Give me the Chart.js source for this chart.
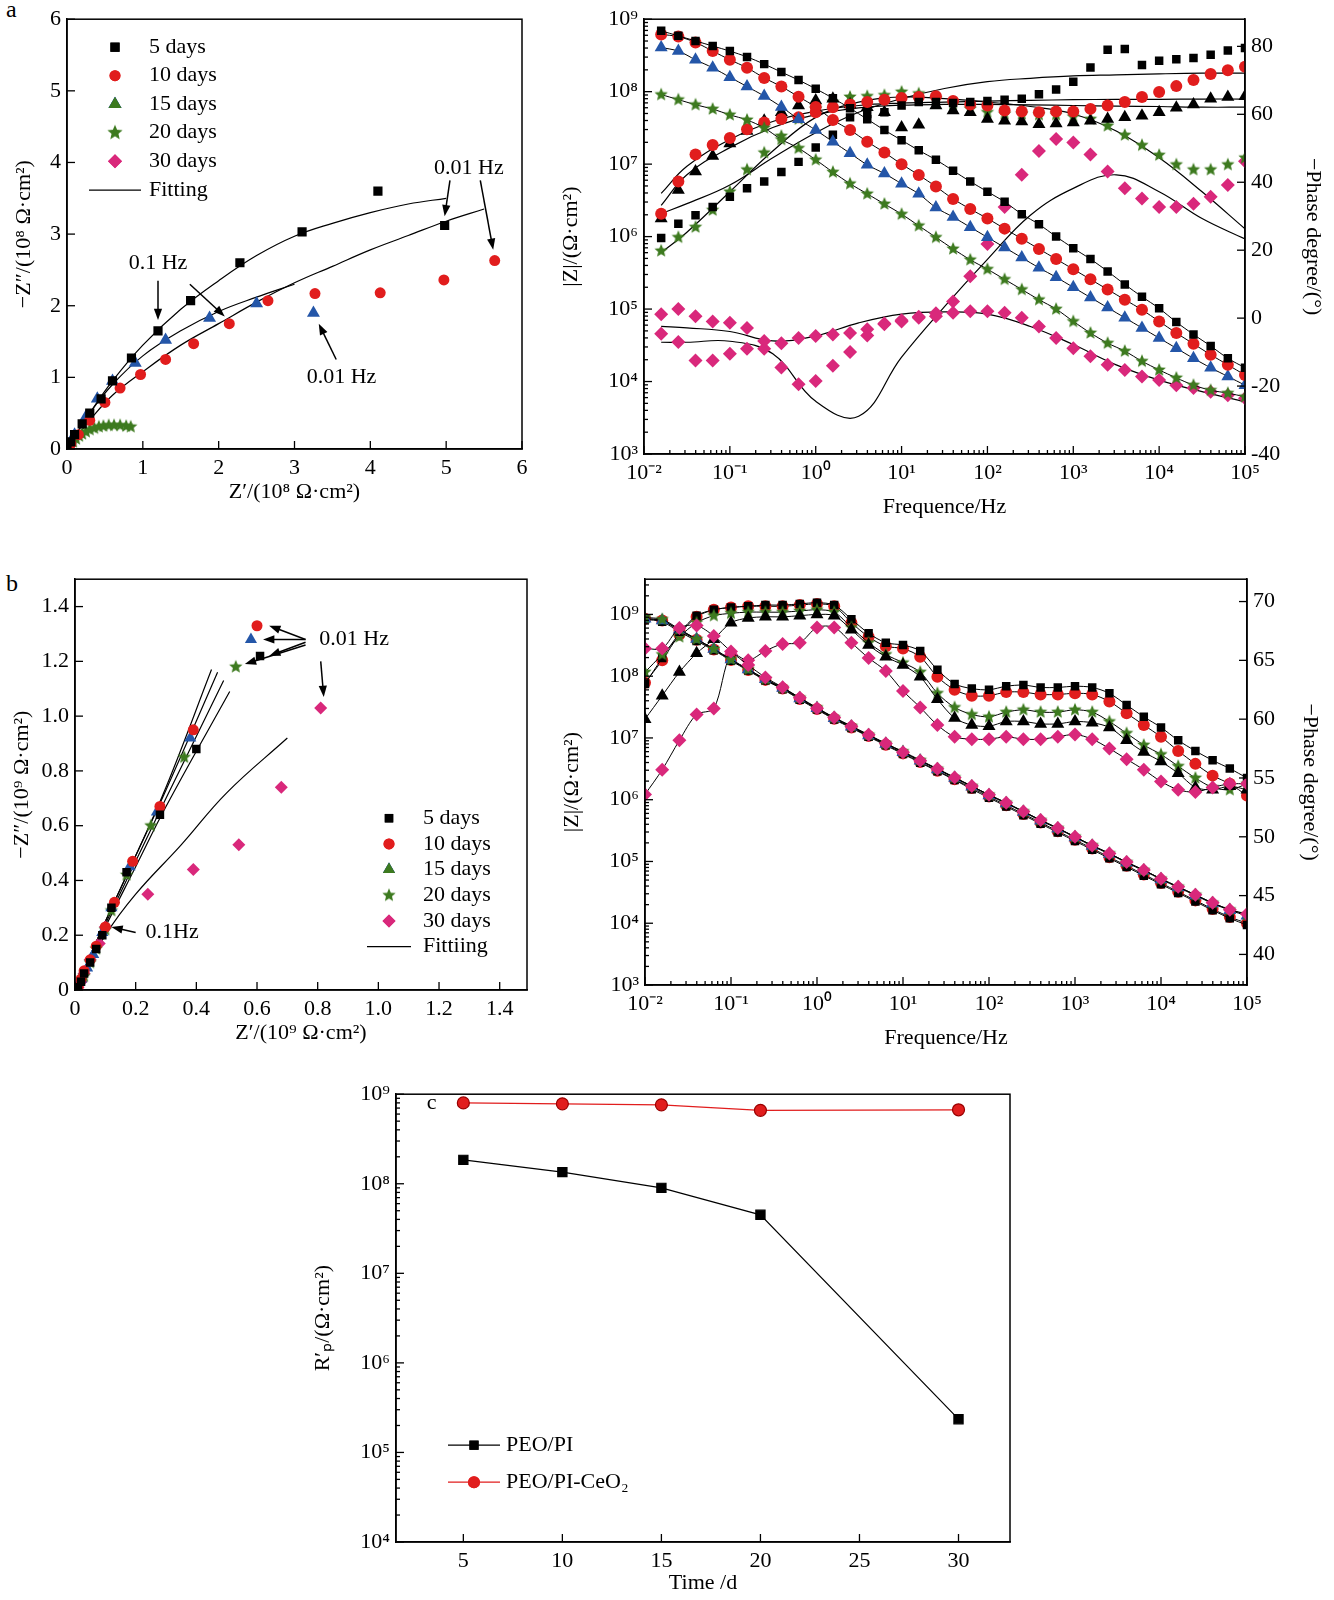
<!DOCTYPE html>
<html>
<head>
<meta charset="utf-8">
<script src="https://cdn.jsdelivr.net/npm/chart.js@4.4.1/dist/chart.umd.min.js"></script>
<style>
body{margin:0;background:#fff;width:1334px;height:1600px;position:relative;overflow:hidden}
canvas{position:absolute}
.lab{position:absolute;font:24px "Liberation Serif",serif}
</style>
</head>
<body>
<div class="lab" style="left:6px;top:-4px">a</div>
<div class="lab" style="left:6px;top:570px">b</div>
<canvas id="aL" width="530" height="509" style="left:7px;top:0"></canvas>
<canvas id="aR" width="776" height="524" style="left:554px;top:0"></canvas>
<canvas id="bL" width="537" height="490" style="left:5px;top:560px"></canvas>
<canvas id="bR" width="772" height="495" style="left:555px;top:560px"></canvas>
<canvas id="cC" width="724" height="525" style="left:306px;top:1075px"></canvas>
<script>
// ---------- data ----------
const days = ['5 days','10 days','15 days','20 days','30 days'];

// panel a, Nyquist (10^8 ohm cm2)
const aNyq5  = [[0,0],[0.05,0.1],[0.1,0.2],[0.2,0.35],[0.3,0.5],[0.45,0.7],[0.6,0.95],[0.85,1.27],[1.2,1.65],[1.63,2.07],[2.28,2.6],[3.1,3.03],[4.1,3.6],[4.98,3.12]];
const aNyq10 = [[0.05,0.07],[0.15,0.2],[0.3,0.4],[0.5,0.65],[0.7,0.85],[0.97,1.04],[1.3,1.25],[1.67,1.47],[2.14,1.75],[2.65,2.07],[3.27,2.17],[4.13,2.18],[4.97,2.36],[5.64,2.63]];
const aNyq15 = [[0.1,0.2],[0.25,0.45],[0.4,0.7],[0.6,0.95],[0.9,1.2],[1.3,1.52],[1.88,1.83],[2.5,2.03],[3.25,1.9]];
const aNyq20 = [[0.02,0.02],[0.05,0.06],[0.08,0.1],[0.12,0.14],[0.16,0.18],[0.2,0.21],[0.25,0.24],[0.3,0.27],[0.36,0.29],[0.42,0.31],[0.48,0.32],[0.55,0.33],[0.62,0.33],[0.7,0.33],[0.78,0.32],[0.84,0.31]];
const aNyq30 = [[0,0]];
const aFit5  = [[0,0],[0.3,0.5],[0.6,0.95],[1,1.45],[1.5,1.95],[2,2.35],[2.5,2.7],[3,2.97],[3.5,3.15],[4,3.3],[4.5,3.42],[5,3.5]];
const aFit10 = [[0,0],[0.3,0.4],[0.6,0.75],[1,1.08],[1.5,1.45],[2,1.75],[2.5,2.05],[3,2.32],[3.5,2.55],[4,2.78],[4.5,2.98],[5,3.18],[5.5,3.35]];
const aFit15 = [[0,0],[0.3,0.5],[0.6,0.9],[1,1.3],[1.5,1.65],[2,1.92],[2.5,2.12],[3,2.3]];
const aFit20 = [[0,0],[0.1,0.13],[0.2,0.2],[0.3,0.25],[0.45,0.3],[0.6,0.32],[0.8,0.33]];

// panel a, Bode: log10 frequency, log10 |Z|, phase
const fA = [-1.8,-1.6,-1.4,-1.2,-1,-0.8,-0.6,-0.4,-0.2,0,0.2,0.4,0.6,0.8,1,1.2,1.4,1.6,1.8,2,2.2,2.4,2.6,2.8,3,3.2,3.4,3.6,3.8,4,4.2,4.4,4.6,4.8,5];
const aZ5  = [8.84,8.77,8.70,8.63,8.56,8.48,8.38,8.27,8.16,8.04,7.91,7.77,7.62,7.47,7.33,7.19,7.06,6.91,6.76,6.62,6.48,6.31,6.17,6.0,5.84,5.69,5.52,5.34,5.17,5.01,4.82,4.65,4.49,4.32,4.19];
const aZ10 = [8.79,8.76,8.68,8.56,8.44,8.33,8.19,8.07,7.93,7.79,7.61,7.47,7.31,7.16,7.0,6.85,6.69,6.52,6.38,6.25,6.11,5.97,5.83,5.69,5.55,5.41,5.27,5.13,4.99,4.83,4.67,4.52,4.37,4.23,4.09];
const aZ15 = [8.61,8.56,8.44,8.33,8.2,8.07,7.94,7.79,7.62,7.47,7.31,7.15,6.99,6.87,6.73,6.59,6.4,6.27,6.13,5.99,5.85,5.71,5.57,5.44,5.3,5.16,5.02,4.88,4.74,4.6,4.46,4.32,4.19,4.07,3.95];
const aZ20 = [7.96,7.89,7.82,7.76,7.68,7.61,7.5,7.34,7.22,7.06,6.89,6.73,6.59,6.45,6.31,6.15,5.99,5.83,5.68,5.55,5.41,5.27,5.13,5.0,4.83,4.67,4.53,4.42,4.28,4.16,4.05,3.95,3.88,3.84,3.79];
const aZ30 = [4.93,5.0,4.9,4.83,4.81,4.74,4.56,4.53,4.6,4.63,4.65,4.67,4.72,4.79,4.83,4.88,4.9,4.95,4.97,4.97,4.95,4.88,4.76,4.6,4.46,4.35,4.23,4.16,4.07,4.02,3.95,3.91,3.86,3.81,3.77];
const aP5  = [23.6,27.8,30.3,32.7,35.7,38.2,40.2,43.0,46.0,50.2,54.0,59.1,60.1,60.6,62.6,63.6,63.6,63.3,63.6,63.9,64.3,64.6,65.9,67.3,69.6,73.8,79.0,79.2,74.5,75.8,76.2,76.6,77.5,78.8,79.5];
const aP10 = [30.7,40.2,48.2,51.0,53.0,55.6,57.6,58.6,59.1,60.6,62.1,62.9,63.6,64.3,64.8,65.1,65.3,63.9,62.9,62.6,61.1,60.8,60.6,60.8,60.8,61.6,62.6,63.6,65.1,66.6,68.3,70.1,71.9,73.0,74.0];
const aP15 = [29.3,37.7,43.2,47.7,51.4,55.1,58.1,60.6,62.6,64.1,64.6,62.9,62.1,60.6,56.1,56.9,62.6,61.1,60.6,58.6,58.1,57.9,57.1,57.3,57.6,58.1,58.6,59.1,59.6,60.6,61.9,62.9,64.6,65.1,65.3];
const aP20 = [19.8,23.8,26.8,31.8,37.2,43.7,48.7,53.6,58.6,61.6,63.6,65.1,65.3,65.6,66.6,66.1,64.6,62.9,61.6,60.6,60.1,60.1,59.9,59.9,59.3,58.6,56.6,53.9,50.9,48.0,45.2,43.7,43.7,45.2,47.2];
const aP30 = [-4.6,-7.0,-12.5,-12.5,-10.5,-9.0,-9.0,-14.5,-19.5,-18.5,-14.0,-10.0,-5.1,-1.6,-0.6,0.4,1.4,4.9,12.3,21.8,32.7,42.2,49.2,52.7,51.7,48.2,43.2,38.2,35.2,32.7,32.7,33.7,35.7,39.2,46.2];
// fitted curves, panel a Bode
const fAfit = [-1.8,-1.5,-1,-0.5,0,0.5,1,1.5,2,2.5,3,3.5,4,4.5,5];
const aFitZ30 = [4.76,4.74,4.69,4.56,4.63,4.81,4.93,4.96,4.93,4.76,4.51,4.23,4.02,3.86,3.72];
const aFitP5  = [30.8,33.7,39.2,47.2,54.6,60.6,64.6,67.6,69.6,70.6,71.3,71.6,71.9,72.1,72.1];
const aFitP10 = [36.7,44.7,52.6,57.9,60.9,62.6,63.3,63.6,63.9,64.1,64.3,64.4,64.4,64.5,64.5];
const aFitP15 = [33.2,42.2,50.2,56.1,59.9,61.9,62.7,62.9,62.9,62.8,62.6,62.4,62.3,62.1,62.1];
const aFitP20 = [19.3,25.3,37.2,49.2,59.1,63.6,65.1,64.6,63.6,62.3,60.1,55.1,47.2,37.2,26.3];
const aFitP30 = [-7.1,-7.1,-6.8,-10.5,-24.5,-28.9,-11.5,3.4,17.3,30.3,38.2,42.2,37.2,29.3,23.3];

// panel b, Nyquist (10^9 ohm cm2)
const bNyq5  = [[0.01,0.01],[0.02,0.03],[0.03,0.06],[0.05,0.1],[0.07,0.15],[0.09,0.2],[0.12,0.3],[0.17,0.43],[0.28,0.64],[0.4,0.88],[0.61,1.22]];
const bNyq10 = [[0.01,0.01],[0.02,0.04],[0.03,0.07],[0.05,0.11],[0.07,0.16],[0.1,0.23],[0.13,0.32],[0.19,0.47],[0.28,0.67],[0.39,0.95],[0.6,1.33]];
const bNyq15 = [[0.01,0.01],[0.02,0.04],[0.04,0.08],[0.06,0.13],[0.09,0.21],[0.12,0.3],[0.18,0.45],[0.27,0.65],[0.38,0.92],[0.58,1.28]];
const bNyq20 = [[0.01,0.02],[0.03,0.05],[0.05,0.1],[0.07,0.15],[0.1,0.22],[0.12,0.29],[0.17,0.42],[0.25,0.6],[0.36,0.85],[0.53,1.18]];
const bNyq30 = [[0.01,0.01],[0.02,0.03],[0.03,0.06],[0.05,0.11],[0.08,0.17],[0.1,0.23],[0.24,0.35],[0.39,0.44],[0.54,0.53],[0.68,0.74],[0.81,1.03]];
const bFit5  = [[0,0],[0.1,0.25],[0.2,0.49],[0.3,0.74],[0.45,1.17]];
const bFit10 = [[0,0],[0.1,0.25],[0.2,0.49],[0.3,0.73],[0.47,1.16]];
const bFit15 = [[0,0],[0.1,0.24],[0.2,0.47],[0.3,0.7],[0.49,1.13]];
const bFit20 = [[0,0],[0.1,0.23],[0.2,0.45],[0.3,0.67],[0.51,1.09]];
const bFit30 = [[0,0],[0.1,0.2],[0.2,0.35],[0.35,0.53],[0.5,0.72],[0.7,0.92]];

// panel b, Bode
const fB = [-2,-1.8,-1.6,-1.4,-1.2,-1,-0.8,-0.6,-0.4,-0.2,0,0.2,0.4,0.6,0.8,1,1.2,1.4,1.6,1.8,2,2.2,2.4,2.6,2.8,3,3.2,3.4,3.6,3.8,4,4.2,4.4,4.6,4.8,5];
const bZ5  = [8.92,8.88,8.72,8.57,8.42,8.25,8.09,7.93,7.79,7.62,7.46,7.3,7.16,7.02,6.88,6.74,6.6,6.46,6.32,6.17,6.03,5.89,5.75,5.61,5.47,5.33,5.19,5.05,4.91,4.77,4.63,4.49,4.35,4.21,4.08,3.97];
const bZ10 = [8.93,8.9,8.74,8.59,8.43,8.26,8.1,7.94,7.8,7.63,7.47,7.31,7.17,7.03,6.89,6.75,6.61,6.47,6.33,6.19,6.05,5.91,5.77,5.63,5.49,5.35,5.21,5.07,4.93,4.79,4.65,4.51,4.37,4.23,4.1,4.0];
const bZ15 = [8.93,8.9,8.75,8.6,8.44,8.27,8.11,7.95,7.81,7.64,7.48,7.32,7.18,7.04,6.9,6.77,6.63,6.49,6.35,6.21,6.07,5.94,5.8,5.66,5.53,5.39,5.25,5.12,4.98,4.85,4.71,4.58,4.45,4.32,4.21,4.12];
const bZ20 = [8.95,8.92,8.76,8.6,8.44,8.27,8.11,7.95,7.81,7.65,7.49,7.33,7.19,7.05,6.91,6.78,6.64,6.5,6.36,6.22,6.08,5.95,5.81,5.67,5.54,5.4,5.26,5.13,4.99,4.86,4.72,4.59,4.46,4.33,4.22,4.14];
const bZ30 = [8.45,8.45,8.78,8.82,8.65,8.4,8.18,7.98,7.82,7.65,7.48,7.33,7.19,7.05,6.91,6.77,6.63,6.5,6.36,6.22,6.08,5.95,5.81,5.67,5.54,5.4,5.26,5.13,4.99,4.86,4.72,4.59,4.46,4.33,4.22,4.15];
const bP5  = [63,65.2,67.3,68.8,69.3,69.5,69.6,69.7,69.7,69.8,69.9,69.7,68.5,67.3,66.5,66.3,65.8,64.2,63.0,62.6,62.5,62.8,62.9,62.7,62.7,62.8,62.7,62.2,61.2,60.2,59.3,58.2,57.3,56.5,55.8,55.0];
const bP10 = [63.1,65.0,67.2,68.7,69.3,69.5,69.6,69.6,69.6,69.7,69.8,69.6,68.2,67.0,66.2,66.0,65.3,63.6,62.5,62.0,62.0,62.3,62.3,62.1,62.1,62.2,62.1,61.5,60.5,59.5,58.5,57.3,56.2,55.2,54.5,53.5];
const bP15 = [60.0,62.0,64.0,65.6,66.8,68.2,68.6,68.7,68.7,68.8,68.9,68.8,67.6,66.3,65.3,64.6,63.6,61.7,60.1,59.5,59.4,59.8,59.8,59.6,59.6,59.8,59.7,59.3,58.2,57.2,56.4,55.4,54.2,54.0,54.3,54.0];
const bP20 = [64.0,65.5,67.0,68.2,68.8,69.0,69.1,69.1,69.1,69.2,69.3,69.1,67.8,66.5,65.5,64.8,64.0,62.2,61.0,60.4,60.2,60.6,60.8,60.6,60.6,60.8,60.6,59.8,58.8,57.8,57.0,56.0,55.0,54.2,54.0,54.5];
const bP30 = [53.6,55.7,58.2,60.4,60.9,65.5,65.0,65.8,66.4,66.5,67.8,67.8,66.5,65.2,64.1,62.4,61.0,59.5,58.5,58.3,58.3,58.5,58.3,58.3,58.5,58.7,58.3,57.5,56.6,55.7,54.7,54.0,53.8,54.2,54.5,54.5];

// panel c
const cDays = [5,10,15,20,30];
const cPI   = [1.85e8,1.35e8,9e7,4.5e7,2.35e5];
const cCeO2 = [8e8,7.8e8,7.6e8,6.6e8,6.7e8];

// ---------- helpers ----------
const FONT = '"Liberation Serif", "Times New Roman", serif';
const COL = {k:'#000000', r:'#e11d1d', b:'#2456a8', g:'#3d7a1f', p:'#d9287b'};
const SUP = {'0':'⁰','1':'¹','2':'²','3':'³','4':'⁴','5':'⁵','6':'⁶','7':'⁷','8':'⁸','9':'⁹','-':'⁻'};
const sup = n => '10' + String(n).split('').map(c => SUP[c]).join('');

function makeStar(color, r){
  const c = document.createElement('canvas');
  c.width = c.height = 2*r+2;
  const g = c.getContext('2d');
  g.fillStyle = color;
  g.beginPath();
  for(let i=0;i<10;i++){
    const rr = i%2 ? r*0.45 : r;
    const a = -Math.PI/2 + i*Math.PI/5;
    g.lineTo(r+1+rr*Math.cos(a), r+1+rr*Math.sin(a));
  }
  g.closePath(); g.fill();
  return c;
}
const star = makeStar(COL.g, 8);
const starS = makeStar(COL.g, 7);

const pts = (xs, ys, logY) => xs.map((f,i) => ({x: Math.pow(10,f), y: logY ? Math.pow(10, ys[i]) : ys[i]}));
const xy = arr => arr.map(p => ({x:p[0], y:p[1]}));

function marks(data, color, style, r, axis, line){
  return {data, yAxisID: axis||'y', pointStyle: style, pointRadius: r, pointHoverRadius: r,
    pointBackgroundColor: color, pointBorderColor: color, pointBorderWidth: 0,
    showLine: !!line, borderColor:'#000', borderWidth: 1, tension: 0.3, order: 1};
}
function fit(data, axis){
  return {data, yAxisID: axis||'y', pointRadius: 0, showLine: true, borderColor:'#000', borderWidth: 1.2, tension: 0.4, order: 2};
}

function fixW(w){ return s => { s.width = w; }; }
function fixH(h){ return s => { s.height = h; }; }

function logTicks(lo, hi){
  return s => {
    const t = [];
    for(let e=lo;e<=hi;e++){
      for(let m=1;m<10;m++){
        const v = m*Math.pow(10,e);
        if(v>=s.min*0.999 && v<=s.max*1.001) t.push({value:v});
      }
    }
    s.ticks = t;
  };
}
function linTicks(vals){ return s => { s.ticks = vals.map(v => ({value:v})); }; }
function decLabel(v){
  const e = Math.log10(v);
  return Math.abs(e-Math.round(e))<1e-6 ? sup(Math.round(e)) : '';
}

const tickFont = {family: FONT, size: 22};
const titleFont = {family: FONT, size: 22};

function axis(o){
  return Object.assign({
    border:{color:'#000', width:1.5},
    grid:{display:false, drawTicks:false},
    ticks:{color:'#000', font:tickFont, padding:6, maxRotation:0, autoSkip:false},
  }, o);
}

// box, inward ticks, legend, notes, arrows
const extras = {
  id:'extras',
  afterDraw(chart, args, opt){
    const ctx = chart.ctx, a = chart.chartArea;
    ctx.save();
    ctx.strokeStyle = '#000'; ctx.lineWidth = 1.5;
    ctx.strokeRect(a.left, a.top, a.right-a.left, a.bottom-a.top);
    // inward ticks
    ctx.lineWidth = 1.3;
    Object.values(chart.scales).forEach(s => {
      const isLog = s.type === 'logarithmic';
      s.ticks.forEach(t => {
        let major = true;
        if(isLog){ const e = Math.log10(t.value); major = Math.abs(e-Math.round(e))<1e-6; }
        const len = major ? 8 : 4;
        const p = s.getPixelForValue(t.value);
        ctx.beginPath();
        if(s.axis === 'x'){ ctx.moveTo(p, a.bottom); ctx.lineTo(p, a.bottom-len); }
        else if(s.position === 'right'){ ctx.moveTo(a.right, p); ctx.lineTo(a.right-len, p); }
        else { ctx.moveTo(a.left, p); ctx.lineTo(a.left+len, p); }
        ctx.stroke();
      });
    });
    ctx.font = '22px ' + FONT; ctx.fillStyle = '#000'; ctx.textBaseline = 'middle';
    (opt.legend||[]).forEach(it => {
      const x = a.left + it.dx, y = a.top + it.dy;
      if(it.line){
        ctx.lineWidth = 1.2; ctx.beginPath();
        ctx.moveTo(x-it.line, y); ctx.lineTo(x+it.line, y); ctx.strokeStyle = it.lineColor||'#000'; ctx.stroke();
      }
      if(it.style){
        ctx.fillStyle = it.color; ctx.strokeStyle = it.color;
        Chart.helpers.drawPoint(ctx, {pointStyle: it.style, radius: it.r||6, rotation:0, borderWidth:0}, x, y);
        ctx.fill();
      }
      ctx.fillStyle = '#000'; ctx.textAlign = 'left';
      ctx.fillText(it.text, a.left + it.tx, y);
    });
    const sx = chart.scales.x, sy = chart.scales.y;
    (opt.arrows||[]).forEach(ar => {
      const x1 = sx.getPixelForValue(ar[0]), y1 = sy.getPixelForValue(ar[1]);
      const x2 = sx.getPixelForValue(ar[2]), y2 = sy.getPixelForValue(ar[3]);
      const ang = Math.atan2(y2-y1, x2-x1);
      ctx.strokeStyle = '#000'; ctx.fillStyle = '#000'; ctx.lineWidth = 1.5;
      ctx.beginPath(); ctx.moveTo(x1,y1); ctx.lineTo(x2-8*Math.cos(ang), y2-8*Math.sin(ang)); ctx.stroke();
      ctx.beginPath(); ctx.moveTo(x2,y2);
      ctx.lineTo(x2-12*Math.cos(ang-0.35), y2-12*Math.sin(ang-0.35));
      ctx.lineTo(x2-12*Math.cos(ang+0.35), y2-12*Math.sin(ang+0.35));
      ctx.closePath(); ctx.fill();
    });
    ctx.textAlign = 'center'; ctx.fillStyle = '#000';
    (opt.notes||[]).forEach(n => {
      ctx.fillText(n.text, sx.getPixelForValue(n.x), sy.getPixelForValue(n.y));
    });
    ctx.restore();
  }
};
Chart.register(extras);
Chart.defaults.devicePixelRatio = 1;
Chart.defaults.animation = false;

function base(datasets, scales, padding, ex){
  return {type:'scatter', data:{datasets}, options:{
    responsive:false, animation:false, layout:{padding},
    plugins:{legend:{display:false}, tooltip:{enabled:false}, extras: ex},
    scales
  }};
}

// ---------- panel a left ----------
new Chart(document.getElementById('aL'), base([
  marks(xy(aNyq5), COL.k, 'rect', 6.5),
  marks(xy(aNyq10), COL.r, 'circle', 5.5),
  marks(xy(aNyq15), COL.b, 'triangle', 7.5),
  marks(xy(aNyq20), COL.g, starS, 7),
  marks(xy(aNyq30), COL.p, 'rectRot', 7),
  fit(xy(aFit5)), fit(xy(aFit10)), fit(xy(aFit15)), fit(xy(aFit20))
], {
  x: axis({type:'linear', min:0, max:6, afterBuildTicks: linTicks([0,1,2,3,4,5,6]), afterFit: fixH(60),
    title:{display:true, text:'Z′/(10⁸ Ω·cm²)', font:titleFont, color:'#000', padding:{top:2}}}),
  y: axis({type:'linear', min:0, max:6, afterBuildTicks: linTicks([0,1,2,3,4,5,6]), afterFit: fixW(60),
    title:{display:true, text:'−Z″/(10⁸ Ω·cm²)', font:titleFont, color:'#000', padding:{bottom:2}}})
}, {top:10, right:15, left:0, bottom:0}, {
  legend:[
    {dx:48, dy:28, style:'rect', color:COL.k, r:6.5, tx:82, text:days[0]},
    {dx:48, dy:56.5, style:'circle', color:COL.r, r:5.5, tx:82, text:days[1]},
    {dx:48, dy:85, style:'triangle', color:COL.b, r:7.5, tx:82, text:days[2]},
    {dx:48, dy:113.5, style:star, color:COL.g, tx:82, text:days[3]},
    {dx:48, dy:142, style:'rectRot', color:COL.p, r:7, tx:82, text:days[4]},
    {dx:48, dy:171, line:26, tx:82, text:'Fitting'}
  ],
  notes:[{x:5.3,y:3.92,text:'0.01 Hz'},{x:1.2,y:2.6,text:'0.1 Hz'},{x:3.62,y:1.0,text:'0.01 Hz'}],
  arrows:[[5.05,3.75,4.98,3.25],[5.45,3.75,5.62,2.78],[1.2,2.35,1.2,1.8],[1.62,2.3,2.08,1.85],[3.55,1.25,3.32,1.75]]
}));

// ---------- panel a right ----------
new Chart(document.getElementById('aR'), base([
  marks(pts(fA,aZ5,true), COL.k, 'rect', 6, 'y', true),
  marks(pts(fA,aZ10,true), COL.r, 'circle', 6, 'y', true),
  marks(pts(fA,aZ15,true), COL.b, 'triangle', 7.5, 'y', true),
  marks(pts(fA,aZ20,true), COL.g, starS, 7, 'y', true),
  marks(pts(fA,aZ30,true), COL.p, 'rectRot', 7, 'y'),
  marks(pts(fA,aP5), COL.k, 'rect', 6, 'y2'),
  marks(pts(fA,aP10), COL.r, 'circle', 6, 'y2'),
  marks(pts(fA,aP15), COL.k, 'triangle', 7.5, 'y2'),
  marks(pts(fA,aP20), COL.g, starS, 7, 'y2'),
  marks(pts(fA,aP30), COL.p, 'rectRot', 7, 'y2'),
  fit(pts(fAfit,aFitZ30,true)),
  fit(pts(fAfit,aFitP5),'y2'), fit(pts(fAfit,aFitP10),'y2'), fit(pts(fAfit,aFitP15),'y2'),
  fit(pts(fAfit,aFitP20),'y2'), fit(pts(fAfit,aFitP30),'y2')
], {
  x: axis({type:'logarithmic', min:1e-2, max:1e5, afterBuildTicks: logTicks(-2,5), afterFit: fixH(70),
    ticks:{color:'#000', font:tickFont, padding:6, maxRotation:0, autoSkip:false, callback: decLabel},
    title:{display:true, text:'Frequence/Hz', font:titleFont, color:'#000', padding:{top:2}}}),
  y: axis({type:'logarithmic', min:1e3, max:1e9, afterBuildTicks: logTicks(3,9), afterFit: fixW(90),
    ticks:{color:'#000', font:tickFont, padding:6, autoSkip:false, callback: decLabel},
    title:{display:true, text:'|Z|/(Ω·cm²)', font:titleFont, color:'#000', padding:{bottom:2}}}),
  y2: axis({type:'linear', position:'right', min:-40, max:88, afterBuildTicks: linTicks([-40,-20,0,20,40,60,80]), afterFit: fixW(85),
    title:{display:true, text:'−Phase degree/(°)', font:titleFont, color:'#000'}})
}, {top:16, right:0, left:0, bottom:0}, {}));

// ---------- panel b left ----------
new Chart(document.getElementById('bL'), base([
  marks(xy(bNyq5), COL.k, 'rect', 6),
  marks(xy(bNyq10), COL.r, 'circle', 5.5),
  marks(xy(bNyq15), COL.b, 'triangle', 7),
  marks(xy(bNyq20), COL.g, starS, 7),
  marks(xy(bNyq30), COL.p, 'rectRot', 6.5),
  fit(xy(bFit5)), fit(xy(bFit10)), fit(xy(bFit15)), fit(xy(bFit20)), fit(xy(bFit30))
], {
  x: axis({type:'linear', min:0, max:1.49, afterBuildTicks: linTicks([0,0.2,0.4,0.6,0.8,1,1.2,1.4]), afterFit: fixH(60),
    ticks:{color:'#000', font:tickFont, padding:6, maxRotation:0, autoSkip:false, callback: v => v===0?'0':v.toFixed(1)},
    title:{display:true, text:'Z′/(10⁹ Ω·cm²)', font:titleFont, color:'#000', padding:{top:2}}}),
  y: axis({type:'linear', min:0, max:1.5, afterBuildTicks: linTicks([0,0.2,0.4,0.6,0.8,1,1.2,1.4]), afterFit: fixW(70),
    ticks:{color:'#000', font:tickFont, padding:6, autoSkip:false, callback: v => v===0?'0':v.toFixed(1)},
    title:{display:true, text:'−Z″/(10⁹ Ω·cm²)', font:titleFont, color:'#000', padding:{bottom:2}}})
}, {top:14, right:15, left:0, bottom:0}, {
  legend:[
    {dx:314, dy:239, style:'rect', color:COL.k, r:6, tx:348, text:days[0]},
    {dx:314, dy:264.7, style:'circle', color:COL.r, r:5.5, tx:348, text:days[1]},
    {dx:314, dy:290.4, style:'triangle', color:COL.b, r:7, tx:348, text:days[2]},
    {dx:314, dy:316.1, style:starS, color:COL.g, tx:348, text:days[3]},
    {dx:314, dy:341.8, style:'rectRot', color:COL.p, r:6.5, tx:348, text:days[4]},
    {dx:314, dy:367.5, line:22, tx:348, text:'Fittiing'}
  ],
  notes:[{x:0.92,y:1.28,text:'0.01 Hz'},{x:0.32,y:0.21,text:'0.1Hz'}],
  arrows:[[0.76,1.28,0.64,1.33],[0.76,1.28,0.62,1.28],[0.76,1.27,0.64,1.22],[0.76,1.26,0.56,1.19],[0.81,1.2,0.82,1.07],[0.2,0.21,0.12,0.23]]
}));

// ---------- panel b right ----------
new Chart(document.getElementById('bR'), base([
  marks(pts(fB,bZ30,true), COL.p, 'rectRot', 7, 'y', true),
  marks(pts(fB,bZ20,true), COL.g, starS, 7, 'y', true),
  marks(pts(fB,bZ15,true), COL.b, 'triangle', 7.5, 'y', true),
  marks(pts(fB,bZ5,true), COL.k, 'rect', 6, 'y', true),
  marks(pts(fB,bZ10,true), COL.r, 'circle', 6, 'y', true),
  marks(pts(fB,bP30), COL.p, 'rectRot', 7, 'y2', true),
  marks(pts(fB,bP15), COL.k, 'triangle', 7.5, 'y2', true),
  marks(pts(fB,bP20), COL.g, starS, 7, 'y2', true),
  marks(pts(fB,bP5), COL.k, 'rect', 6, 'y2', true),
  marks(pts(fB,bP10), COL.r, 'circle', 6, 'y2', true)
], {
  x: axis({type:'logarithmic', min:1e-2, max:1e5, afterBuildTicks: logTicks(-2,5), afterFit: fixH(70),
    ticks:{color:'#000', font:tickFont, padding:6, maxRotation:0, autoSkip:false, callback: decLabel},
    title:{display:true, text:'Frequence/Hz', font:titleFont, color:'#000', padding:{top:2}}}),
  y: axis({type:'logarithmic', min:1e3, max:Math.pow(10,9.57), afterBuildTicks: logTicks(3,9), afterFit: fixW(90),
    ticks:{color:'#000', font:tickFont, padding:6, autoSkip:false, callback: decLabel},
    title:{display:true, text:'|Z|/(Ω·cm²)', font:titleFont, color:'#000', padding:{bottom:2}}}),
  y2: axis({type:'linear', position:'right', min:37.4, max:71.9, afterBuildTicks: linTicks([40,45,50,55,60,65,70]), afterFit: fixW(80),
    title:{display:true, text:'−Phase degree/(°)', font:titleFont, color:'#000'}})
}, {top:14, right:0, left:0, bottom:0}, {}));

// ---------- panel c ----------
new Chart(document.getElementById('cC'), base([
  {data: cDays.map((d,i)=>({x:d,y:cPI[i]})), showLine:true, borderColor:'#000', borderWidth:1.2,
   pointStyle:'rect', pointRadius:6.5, pointBackgroundColor:'#000', pointBorderColor:'#000'},
  {data: cDays.map((d,i)=>({x:d,y:cCeO2[i]})), showLine:true, borderColor:COL.r, borderWidth:1.2,
   pointStyle:'circle', pointRadius:6, pointBackgroundColor:COL.r, pointBorderColor:'#900'}
], {
  x: axis({type:'linear', min:1.6, max:32.6, afterBuildTicks: linTicks([5,10,15,20,25,30]), afterFit: fixH(58),
    title:{display:true, text:'Time /d', font:titleFont, color:'#000', padding:{top:0}}}),
  y: axis({type:'logarithmic', min:1e4, max:1e9, afterBuildTicks: logTicks(4,9), afterFit: fixW(90),
    ticks:{color:'#000', font:tickFont, padding:6, autoSkip:false, callback: decLabel},
    title:{display:true, text:'R′ₚ/(Ω·cm²)', font:titleFont, color:'#000', padding:{bottom:2}}})
}, {top:14, right:20, left:0, bottom:0}, {
  legend:[
    {dx:78, dy:351, line:26, style:'rect', color:'#000', r:6.5, tx:110, text:'PEO/PI'},
    {dx:78, dy:388, line:26, lineColor:COL.r, style:'circle', color:COL.r, r:6, tx:110, text:'PEO/PI-CeO₂'}
  ],
  notes:[{x:3.4, y:8e8, text:'c'}]
}));
</script>
</body>
</html>
